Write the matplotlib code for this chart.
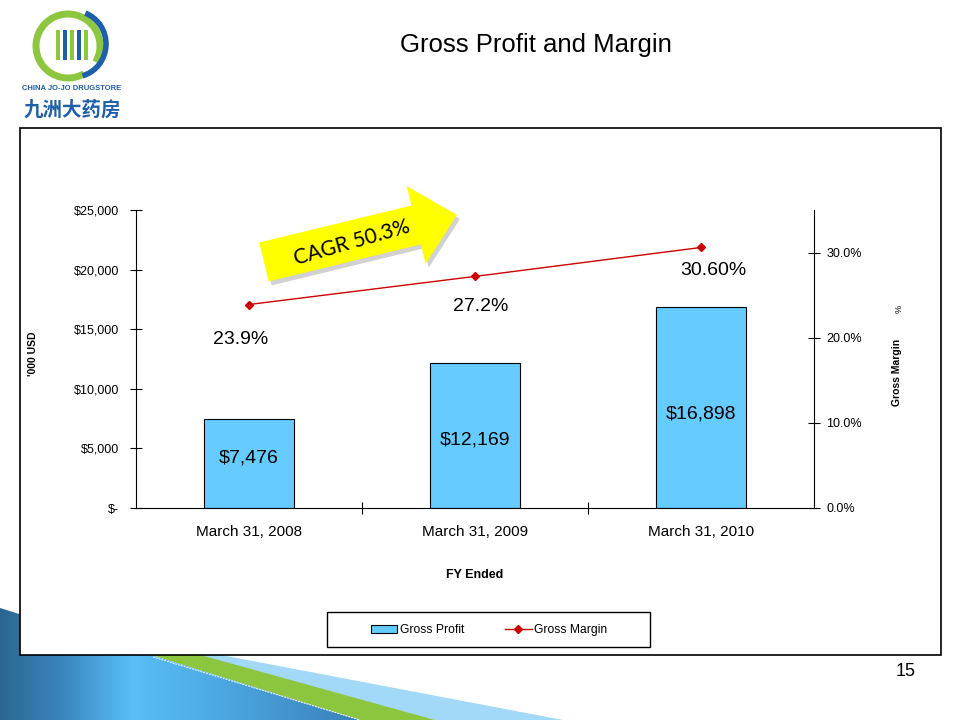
import numpy as np
import matplotlib
matplotlib.use("Agg")
import matplotlib.pyplot as plt
from matplotlib.patches import Rectangle, Polygon, FancyArrow, Arc
from matplotlib.ticker import FuncFormatter, MultipleLocator

plt.rcParams['font.family'] = ['Liberation Sans', 'Noto Sans CJK SC', 'DejaVu Sans']

# data
categories = ['March 31, 2008', 'March 31, 2009', 'March 31, 2010']
gross_profit = [7476, 12169, 16898]
gross_margin = [23.9, 27.2, 30.6]
margin_labels = ['23.9%', '27.2%', '30.60%']
profit_labels = ['$7,476', '$12,169', '$16,898']

fig = plt.figure(figsize=(9.6, 7.2), dpi=100)

# background layer in pixel coords (y down)
bg = fig.add_axes([0, 0, 1, 1], zorder=0)
bg.axis('off')

# bottom-left swooshes
bg.add_patch(Polygon([(100, 632), (563, 720), (435, 720), (100, 640)],
                     closed=True, fc='#A3D9F8', ec='none', zorder=1))
bg.add_patch(Polygon([(20, 605), (435, 720), (360, 720), (20, 614)],
                     closed=True, fc='#8CC63F', ec='none', zorder=2))
blue_poly = Polygon([(0, 608), (360, 720), (0, 720)], closed=True,
                    fc='none', ec='none', zorder=3)
bg.add_patch(blue_poly)
xs = np.linspace(0, 1, 400)
r = np.interp(xs, [0, 0.15, 0.33, 0.55, 1], [0x2C, 0x3A, 0x5A, 0x4C, 0x36]) / 255
g = np.interp(xs, [0, 0.15, 0.33, 0.55, 1], [0x66, 0x84, 0xBE, 0xA8, 0x74]) / 255
b = np.interp(xs, [0, 0.15, 0.33, 0.55, 1], [0x90, 0xBC, 0xF7, 0xE2, 0xAE]) / 255
grad = np.dstack([r, g, b]).repeat(2, axis=0)
im = bg.imshow(grad, extent=(0, 400, 720, 600), aspect='auto', zorder=3)
im.set_clip_path(blue_poly)
bg.plot([153, 360], [657, 720], color='white', lw=0.7, ls=(0, (2, 1)), zorder=4)

# chart box
bg.add_patch(Rectangle((20, 128), 921, 527, fc='white', ec='black', lw=1.2, zorder=5))

# logo
bg.add_patch(Arc((68, 46), 64, 64, theta1=60, theta2=390, lw=5, color='#8DC63F', zorder=6))
bg.add_patch(Arc((74, 44), 64, 66, theta1=-70, theta2=75, lw=4, color='#1F5FAA', zorder=6))
for x0, col in [(56, '#8DC63F'), (63, '#1F5FAA'), (70, '#8DC63F'), (77, '#1F5FAA'), (84, '#8DC63F')]:
    bg.add_patch(Rectangle((x0, 30), 3.5, 30, fc=col, ec='none', zorder=6))
bg.text(72, 89, 'CHINA JO-JO DRUGSTORE', fontsize=5.5, fontweight='bold', color='#1F5FAA',
        ha='center', va='center', zorder=6)
bg.text(72, 110, '九洲大药房', fontsize=14, fontweight='bold', color='#1F5FAA',
        family=['Noto Sans CJK SC', 'DejaVu Sans'], ha='center', va='center', zorder=6)

bg.text(536, 45, 'Gross Profit and Margin', fontsize=18.5, ha='center', va='center', zorder=6)
bg.text(906, 672, '15', fontsize=13, ha='center', va='center', zorder=6)
bg.set_xlim(0, 960)
bg.set_ylim(720, 0)

# main chart
ax = fig.add_axes([136 / 960, 1 - 508 / 720, (814 - 136) / 960, (508 - 210) / 720], zorder=2)
ax.patch.set_alpha(0)
x = np.arange(len(categories))
ax.bar(x, gross_profit, width=0.4, color='#66CCFF', edgecolor='black', linewidth=0.8,
       label='Gross Profit', zorder=2)
ax.set_xlim(-0.5, len(categories) - 0.5)
ax.set_ylim(0, 25000)
ax.yaxis.set_major_locator(MultipleLocator(5000))
ax.yaxis.set_major_formatter(FuncFormatter(lambda v, p: '$-' if v == 0 else f'${v:,.0f}'))
ax.set_xticks(x)
ax.set_xticklabels(categories, fontsize=11)
ax.set_xticks([0.5, 1.5], minor=True)
ax.tick_params(axis='x', which='major', length=0, pad=12)
ax.tick_params(axis='x', which='minor', direction='inout', length=8, width=0.8)
ax.tick_params(axis='y', direction='inout', length=8, width=0.8, labelsize=9, pad=8)
for s in ['top', 'right']:
    ax.spines[s].set_visible(False)
ax.spines['left'].set_linewidth(0.8)
ax.spines['bottom'].set_linewidth(0.8)
ax.set_xlabel('FY Ended', fontsize=9, fontweight='bold', labelpad=22)

bar_dy = [-5, 5, 7]
for xi, v, lab, dy in zip(x, gross_profit, profit_labels, bar_dy):
    ax.annotate(lab, (xi, v / 2), xytext=(0, -dy), textcoords='offset pixels',
                ha='center', va='center', fontsize=14, zorder=3)

ax2 = ax.twinx()
ax2.set_ylim(0, 35)
ax2.plot(x, gross_margin, color='#CC0000', lw=1, marker='D', markersize=4,
         label='Gross Margin', zorder=3)
ax2.yaxis.set_major_locator(MultipleLocator(10))
ax2.yaxis.set_major_formatter(FuncFormatter(lambda v, p: f'{v:.1f}%'))
ax2.tick_params(axis='y', direction='inout', length=8, width=0.8, labelsize=9, pad=5)
for s in ['top', 'left', 'bottom']:
    ax2.spines[s].set_visible(False)
ax2.spines['right'].set_linewidth(0.8)

lab_off = [(-8, -35), (6, -30), (12, -23)]
for xi, v, lab, (dx, dy) in zip(x, gross_margin, margin_labels, lab_off):
    ax2.annotate(lab, (xi, v), xytext=(dx, dy), textcoords='offset pixels',
                 ha='center', va='center', fontsize=14)

fig.text(33 / 960, 1 - 354 / 720, "'000 USD", rotation=90, fontsize=7.5,
         fontweight='bold', ha='center', va='center')
fig.text(897 / 960, 1 - 372 / 720, 'Gross Margin', rotation=90, fontsize=7.5,
         fontweight='bold', ha='center', va='center')
fig.text(899 / 960, 1 - 309 / 720, '%', rotation=90, fontsize=6.5,
         ha='center', va='center')

h1, l1 = ax.get_legend_handles_labels()
h2, l2 = ax2.get_legend_handles_labels()
leg = fig.legend(h1 + h2, l1 + l2, loc='center', bbox_to_anchor=(489 / 960, 1 - 630 / 720),
                 ncol=2, fontsize=8.7, frameon=False, columnspacing=3.4,
                 handlelength=2.2, handletextpad=0.2, borderaxespad=0)
leg.set_zorder(10)

# CAGR arrow overlay
ov = fig.add_axes([0, 0, 1, 1], zorder=5)
ov.set_xlim(0, 960)
ov.set_ylim(720, 0)
ov.axis('off')
ov.patch.set_alpha(0)
ov.add_patch(Rectangle((327, 612), 323, 35, fc='none', ec='black', lw=1))
ov.add_patch(FancyArrow(267, 266, 193, -47, width=40, head_width=80, head_length=42,
                        length_includes_head=True, fc='#999999', ec='none', alpha=0.45))
ov.add_patch(FancyArrow(264, 262, 193, -47, width=40, head_width=80, head_length=42,
                        length_includes_head=True, fc='#FFFF00', ec='none'))
ov.text(352, 243, 'CAGR 50.3%', fontsize=15, rotation=16, family=['Lato', 'DejaVu Sans'],
        ha='center', va='center')
ov.set_xlim(0, 960)
ov.set_ylim(720, 0)

fig.savefig('out.png', dpi=100)
